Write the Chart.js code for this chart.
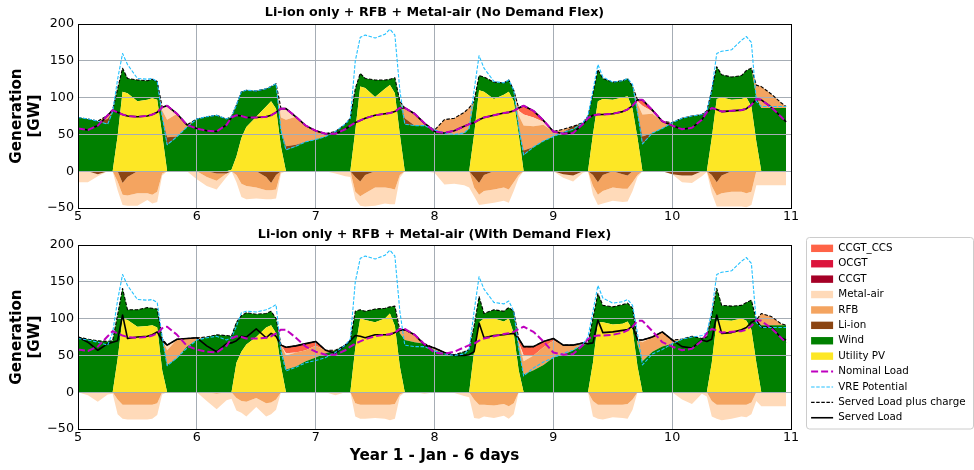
<!DOCTYPE html>
<html lang="en">
<head>
<meta charset="UTF-8">
<title>Generation dispatch - Li-ion only + RFB + Metal-air</title>
<script src="https://cdn.jsdelivr.net/npm/chart.js"></script>
<style>
  html, body { margin: 0; padding: 0; background: #fff; }
  canvas { display: block; }
</style>
</head>
<body>
<canvas id="noFlex" width="974" height="225"></canvas>
<canvas id="withFlex" width="974" height="245"></canvas>
<script>
// sample hours inside each simulated day (denser around sunrise / sunset)
const hourMarks = [0, 2, 4, 6, 7, 8, 9, 10, 12, 14, 15, 16, 17, 18, 20, 22];
const dayNumbers = [5, 6, 7, 8, 9, 10];
const timeDays = [];
dayNumbers.forEach(d => hourMarks.forEach(h => timeDays.push(d + h / 24)));
timeDays.push(10 + 23 / 24);

const xTicks = [5, 6, 7, 8, 9, 10, 11];
const yTicks = [-50, 0, 50, 100, 150, 200];

// ---- shared traces (GW) ----
const nominalLoad = [
  58,56,62,76,83,80,77,75,74,75,77,80,87,89,78,63,
  58,55,54,63,73,76,75,73,73,74,76,80,85,85,74,62,
  55,51,51,57,62,66,69,72,76,78,79,81,86,86,78,65,
  54,52,55,61,64,66,70,73,76,79,80,82,86,89,82,69,
  54,51,52,64,72,76,77,77,78,81,84,89,97,97,83,68,
  62,57,59,70,80,86,84,81,82,83,85,90,98,97,87,74,67
];
const vrePotential = [
  73,71,68,64,81,125,160,145,126,125,126,122,75,36,47,60,
  71,74,76,71,74,90,108,110,109,112,115,119,55,29,34,40,
  43,47,54,64,72,150,182,185,181,186,193,185,110,64,62,62,
  56,52,50,52,58,110,157,140,122,120,124,110,60,22,33,41,
  47,53,57,66,75,110,145,128,121,123,126,118,80,37,52,58,
  66,72,75,77,81,110,160,163,165,178,183,175,95,88,88,88,88
];

// ---- No demand flex ----
const pvA = [
  0,0,0,0,0,48,108,106,95,97,99,97,50,0,0,0,
  0,0,0,0,2,20,45,60,74,88,95,85,33,0,0,0,
  0,0,0,0,0,55,115,113,101,112,117,106,50,0,0,0,
  0,0,0,0,0,50,110,108,98,104,108,95,50,0,0,0,
  0,0,0,0,0,50,95,98,97,100,102,85,45,0,0,0,
  0,0,0,0,0,45,98,100,97,98,100,88,40,0,0,0,0
];
const windA = [
  73,71,68,64,81,64,32,20,29,26,26,25,23,36,47,60,
  71,74,76,71,72,70,63,50,35,24,20,34,22,29,34,40,
  43,47,54,64,72,57,18,13,23,12,8,21,45,64,62,62,
  56,52,50,52,58,45,20,20,23,16,16,15,10,22,33,41,
  47,53,57,66,75,55,43,28,24,23,24,30,35,37,52,58,
  66,72,75,77,78,65,44,31,31,32,37,52,60,86,86,86,86
];
const liionA = [
  0,0,0,7,0,0,0,0,0,0,0,0,0,10,0,0,
  0,0,0,0,0,0,0,0,0,0,0,0,0,5,2,0,
  0,0,0,0,0,0,0,0,0,0,0,0,0,8,0,0,
  0,0,0,0,0,0,0,0,0,0,0,0,0,6,0,0,
  0,0,4,0,0,0,0,0,0,0,0,0,0,10,0,0,
  0,0,0,0,4,0,0,0,0,0,0,0,0,0,0,0,0
];
const rfbA = [
  0,0,0,5,2,0,0,0,0,0,0,0,10,24,31,3,
  0,0,0,0,0,0,0,0,0,0,0,0,18,36,38,22,
  12,4,0,0,0,0,0,0,0,0,0,0,0,14,16,3,
  0,18,22,28,28,0,0,0,0,0,0,0,16,34,28,22,
  7,4,0,0,0,0,0,0,0,0,0,0,12,30,26,10,
  0,0,0,0,0,0,0,0,0,0,0,0,17,29,19,7,2
];
const metalA = [
  0,0,0,0,0,0,0,0,0,0,0,0,4,19,0,0,
  0,0,0,0,0,0,0,0,0,0,0,0,12,15,0,0,
  0,0,0,0,0,0,0,0,0,0,0,0,0,0,0,0,
  0,0,0,0,0,0,0,0,0,0,0,0,6,15,12,4,
  0,0,0,0,0,0,0,0,0,0,0,0,3,12,3,0,
  0,0,0,0,0,0,0,0,0,0,0,0,0,0,0,0,0
];
const ccsA = [
  0,0,0,0,0,0,0,0,0,0,0,0,0,0,0,0,
  0,0,0,0,0,0,0,0,0,0,0,0,0,0,0,0,
  0,0,0,0,0,0,0,0,0,0,0,0,0,0,0,0,
  0,0,0,0,0,0,0,0,0,0,0,0,4,12,9,2,
  0,0,0,0,0,0,0,0,0,0,0,0,2,8,2,0,
  0,0,0,0,0,0,0,0,0,0,0,0,0,0,0,0,0
];
const liionChargeA = [
  0,0,-4,0,0,0,-16,-8,0,0,0,0,0,0,0,0,
  0,0,-3,-3,0,0,0,0,0,-8,-16,-5,0,0,0,0,
  0,0,0,0,0,-8,-14,-5,0,0,0,0,0,0,0,0,
  0,0,0,0,0,-8,-16,-5,0,0,0,0,0,0,0,0,
  0,-4,-6,0,0,-5,-15,-5,0,-4,-6,0,0,0,0,0,
  -4,-6,-6,0,0,-5,-15,-6,0,0,0,0,0,0,0,0,0
];
const rfbChargeA = [
  0,0,0,0,0,-14,-16,-25,-30,-30,-32,-28,-3,0,0,0,
  0,-8,-10,0,0,-5,-17,-20,-22,-18,-10,-20,0,0,0,0,
  0,0,0,0,0,-20,-20,-25,-22,-22,-23,-25,-5,0,0,0,
  0,0,0,0,0,-14,-16,-22,-25,-22,-25,-15,-5,0,0,0,
  0,0,0,0,0,-15,-17,-22,-22,-20,-18,-15,-5,0,0,0,
  0,0,0,0,0,-15,-18,-24,-28,-28,-30,-28,0,0,0,0,0
];
const metalChargeA = [
  -15,-15,-3,0,0,-12,-14,-14,-17,-9,-12,-14,-3,0,0,0,
  -11,-12,-12,-5,0,-10,-18,-18,-15,-12,-12,-12,-3,0,0,0,
  0,0,-3,-7,-8,-10,-13,-18,-25,-22,-22,-20,-4,0,0,0,
  -2,-18,-17,-19,-22,-12,-14,-18,-18,-18,-18,-12,-4,0,0,0,
  0,-5,-8,-2,0,-12,-14,-17,-18,-18,-17,-12,-3,0,0,0,
  0,-9,-10,-7,-1,-10,-15,-18,-20,-20,-19,-18,-19,-19,-19,-19,-19
];

// ---- With demand flex ----
const pvB = [
  0,0,0,0,0,45,100,98,89,90,91,88,30,0,0,0,
  0,0,0,0,0,40,55,65,75,88,91,80,35,0,0,0,
  0,0,0,0,0,60,100,98,95,100,107,90,35,0,0,0,
  0,0,0,0,0,55,95,100,100,96,100,80,30,0,0,0,
  0,0,0,0,0,40,95,95,92,93,96,85,35,0,0,0,
  0,0,0,0,0,40,97,98,97,100,97,85,40,0,0,0,0
];
const windB = [
  75,72,70,69,70,60,41,14,23,25,23,25,43,37,46,62,
  71,75,78,77,76,55,49,43,31,19,19,20,25,31,35,42,
  47,53,57,64,70,50,12,12,18,14,9,27,45,71,68,66,
  57,53,51,55,58,35,35,7,12,14,15,30,30,24,30,37,
  47,51,57,65,66,60,39,23,24,26,25,29,30,42,55,62,
  66,72,76,73,75,65,44,20,20,18,25,40,55,91,91,91,91
];
const rfbB = [
  0,0,0,0,0,0,0,0,0,0,0,0,0,20,26,11,
  3,0,0,0,0,0,0,0,0,0,0,0,4,19,19,15,
  16,4,0,0,0,0,0,0,0,0,0,0,4,14,10,0,
  3,1,0,0,0,0,0,0,0,0,0,0,8,18,20,24,
  23,13,7,2,0,0,0,0,0,0,0,0,6,26,20,20,
  5,0,0,0,0,0,0,0,0,0,0,0,3,16,12,2,0
];
const metalB = [
  0,0,0,0,0,0,0,0,0,0,0,0,0,7,0,0,
  0,0,0,0,0,0,0,0,0,0,0,0,0,3,0,0,
  0,0,0,0,0,0,0,0,0,0,0,0,0,0,0,0,
  0,0,0,0,0,0,0,0,0,0,0,0,0,8,0,0,
  0,0,0,0,0,0,0,0,0,0,0,0,0,3,0,0,
  0,0,0,0,0,0,0,0,0,0,0,0,0,0,0,0,0
];
const ccsB = [
  0,0,0,0,0,0,0,0,0,0,0,0,0,0,0,0,
  0,0,0,0,0,0,0,0,0,0,0,0,0,8,9,9,
  6,0,0,0,0,0,0,0,0,0,0,0,0,0,0,0,
  0,0,0,0,0,0,0,0,0,0,0,0,5,12,12,8,
  3,0,0,0,0,0,0,0,0,0,0,0,0,0,0,0,
  0,0,0,0,0,0,0,0,0,0,0,0,0,0,0,0,0
];
const rfbChargeB = [
  0,0,0,0,0,-10,-17,-17,-17,-17,-17,-15,0,0,0,0,
  0,0,-2,0,0,-8,-12,-13,-8,-15,-14,-10,0,0,0,0,
  0,0,0,0,0,-15,-17,-17,-17,-17,-17,-16,-3,0,0,0,
  0,0,0,0,0,-10,-17,-17,-18,-16,-19,-15,0,0,0,0,
  0,0,0,0,0,-12,-17,-17,-17,-17,-16,-10,0,0,0,0,
  0,0,0,0,0,-12,-17,-17,-17,-17,-17,-14,0,0,0,0,0
];
const metalChargeB = [
  0,-4,-13,-3,-2,-20,-19,-20,-20,-20,-19,-16,-3,0,0,0,
  0,-12,-21,-11,-9,-17,-16,-20,-12,-18,-16,-14,0,0,0,0,
  0,0,-4,0,0,-18,-19,-19,-18,-19,-21,-20,-3,0,0,-2,
  0,0,-1,-5,-7,-25,-19,-16,-17,-16,-17,-15,0,0,0,0,
  0,0,0,0,0,-21,-19,-20,-17,-18,-20,-14,0,0,0,0,
  0,-10,-16,-2,-6,-21,-19,-21,-19,-16,-17,-16,-12,-19,-19,-19,-19
];
const servedB = [
  75,68,57,66,68,70,105,73,75,76,78,82,70,64,72,73,
  74,63,55,66,67,70,76,75,86,74,80,76,64,61,63,66,
  69,57,53,64,70,77,76,74,78,78,78,81,84,85,78,64,
  60,54,50,50,51,55,94,74,77,78,79,80,73,62,62,69,
  73,64,64,67,66,67,98,81,82,84,85,90,71,71,75,82,
  71,62,60,71,69,72,105,80,81,85,88,95,98,88,89,74,71
];

const techColors = {
  'CCGT_CCS': '#ff6347',
  'OCGT': '#dc143c',
  'CCGT': '#a50026',
  'Metal-air': '#ffdab9',
  'RFB': '#f4a460',
  'Li-ion': '#8b4513',
  'Wind': '#008000',
  'Utility PV': '#fde725'
};
const traceStyles = {
  'Nominal Load': { color: '#bf00bf', width: 2, dash: [7, 3] },
  'VRE Potential': { color: '#22c0ff', width: 1.1, dash: [3.5, 1.6] },
  'Served Load plus charge': { color: '#000000', width: 1.1, dash: [3.5, 1.6] },
  'Served Load': { color: '#000000', width: 1.6, dash: [] }
};
const gridColor = '#a6adb5';

Chart.defaults.font.family = "'DejaVu Sans', sans-serif";
Chart.defaults.color = '#000';

// total of the generation stack = served load plus storage charging
function stackTotal(parts) {
  return parts[0].map((_, i) => parts.reduce((s, p) => s + p[i], 0));
}

function areaSet(label, data, stack, fill) {
  return { label, data, stack, fill, backgroundColor: techColors[label],
           borderWidth: 0, pointRadius: 0 };
}
function traceSet(label, data, stack) {
  const s = traceStyles[label];
  return { label, data, stack, fill: false, borderColor: s.color, borderWidth: s.width,
           borderDash: s.dash, borderJoinStyle: 'round', pointRadius: 0, tension: 0 };
}

// grid above the filled areas but under the lines, black frame on top
const panelFrame = {
  id: 'panelFrame',
  beforeDatasetsDraw(chart) {
    chart.scales.x.drawGrid(chart.chartArea);
    chart.scales.y.drawGrid(chart.chartArea);
  },
  afterDatasetsDraw(chart) {
    const { ctx, chartArea: a } = chart;
    ctx.save();
    ctx.strokeStyle = '#000';
    ctx.lineWidth = 1;
    ctx.strokeRect(Math.round(a.left) + 0.5, Math.round(a.top) + 0.5,
                   Math.round(a.right - a.left), Math.round(a.bottom - a.top));
    ctx.restore();
  }
};

// legend sits in its own framed box to the right of the lower panel
const legendBox = {
  id: 'legendBox',
  afterLayout(chart) {
    const lg = chart.legend;
    lg.left = 806;
    lg.right = 806 + lg.width;
    lg.top = 10.1;
    lg.bottom = 206;
    lg.height = lg.bottom - lg.top;
  },
  beforeDraw(chart) {
    const ctx = chart.ctx;
    ctx.save();
    ctx.fillStyle = '#fff';
    ctx.strokeStyle = '#cccccc';
    ctx.lineWidth = 1;
    ctx.beginPath();
    ctx.roundRect(806.5, 12.5, 167, 191.5, 3);
    ctx.fill();
    ctx.stroke();
    ctx.restore();
  }
};

const legendOrder = ['CCGT_CCS', 'OCGT', 'CCGT', 'Metal-air', 'RFB', 'Li-ion', 'Wind', 'Utility PV',
                     'Nominal Load', 'VRE Potential', 'Served Load plus charge', 'Served Load'];

function legendItems() {
  return legendOrder.map(name => {
    if (techColors[name]) {
      return { text: name, fillStyle: techColors[name], strokeStyle: techColors[name],
               lineWidth: 0, pointStyle: 'rect', hidden: false };
    }
    const s = traceStyles[name];
    return { text: name, fillStyle: 'rgba(0,0,0,0)', strokeStyle: s.color, lineWidth: s.width,
             lineDash: s.dash, pointStyle: 'line', hidden: false };
  });
}

function panelOptions(opts) {
  return {
    responsive: false,
    animation: false,
    events: [],
    layout: { padding: { left: 0, top: 0, bottom: 0, right: opts.padRight } },
    plugins: {
      filler: { drawTime: 'beforeDatasetsDraw', propagate: false },
      tooltip: { enabled: false },
      title: {
        display: true, text: opts.title, fullSize: false, color: '#000',
        font: { size: 12.7, weight: 'bold' }, padding: opts.titlePad
      },
      legend: opts.legend
    },
    scales: {
      x: {
        type: 'linear', min: xTicks[0], max: xTicks[xTicks.length - 1],
        ticks: { stepSize: 1, padding: 1.2, autoSkip: false, maxRotation: 0,
                 font: { size: 12.7 }, color: '#000' },
        grid: { color: gridColor, lineWidth: 1, drawTicks: false },
        border: { display: false },
        title: opts.xTitle,
        afterFit: s => { s.height = opts.xHeight; }
      },
      y: {
        stacked: true, min: yTicks[0], max: yTicks[yTicks.length - 1],
        ticks: { stepSize: 50, padding: 4, font: { size: 12.7 }, color: '#000',
                 callback: v => (v < 0 ? '\u2212' + Math.abs(v) : String(v)) },
        grid: { color: gridColor, lineWidth: 1, drawTicks: false },
        border: { display: false },
        title: { display: true, text: ['Generation', '[GW]'], color: '#000',
                 font: { size: 15.2, weight: 'bold' }, padding: { top: 7.9, bottom: 0 } },
        afterFit: s => { s.width = 78; }
      }
    }
  };
}

new Chart(document.getElementById('noFlex'), {
  type: 'line',
  data: {
    labels: timeDays,
    datasets: [
      traceSet('Nominal Load', nominalLoad, 'l1'),
      traceSet('VRE Potential', vrePotential, 'l2'),
      traceSet('Served Load plus charge', stackTotal([pvA, windA, liionA, rfbA, metalA, ccsA]), 'l3'),
      traceSet('Served Load', nominalLoad, 'l4'),
      areaSet('Utility PV', pvA, 'gen', 'origin'),
      areaSet('Wind', windA, 'gen', '-1'),
      areaSet('Li-ion', liionA, 'gen', '-1'),
      areaSet('RFB', rfbA, 'gen', '-1'),
      areaSet('Metal-air', metalA, 'gen', '-1'),
      areaSet('CCGT_CCS', ccsA, 'gen', '-1'),
      areaSet('Li-ion', liionChargeA, 'chg', 'origin'),
      areaSet('RFB', rfbChargeA, 'chg', '-1'),
      areaSet('Metal-air', metalChargeA, 'chg', '-1')
    ]
  },
  options: panelOptions({
    title: 'Li-ion only + RFB + Metal-air (No Demand Flex)',
    titlePad: { top: 4.9, bottom: 3.9 },
    padRight: 183,
    xHeight: 17,
    xTitle: { display: false },
    legend: { display: false }
  }),
  plugins: [panelFrame]
});

new Chart(document.getElementById('withFlex'), {
  type: 'line',
  data: {
    labels: timeDays,
    datasets: [
      traceSet('Nominal Load', nominalLoad, 'l1'),
      traceSet('VRE Potential', vrePotential, 'l2'),
      traceSet('Served Load plus charge', stackTotal([pvB, windB, rfbB, metalB, ccsB]), 'l3'),
      traceSet('Served Load', servedB, 'l4'),
      areaSet('Utility PV', pvB, 'gen', 'origin'),
      areaSet('Wind', windB, 'gen', '-1'),
      areaSet('RFB', rfbB, 'gen', '-1'),
      areaSet('Metal-air', metalB, 'gen', '-1'),
      areaSet('CCGT_CCS', ccsB, 'gen', '-1'),
      areaSet('RFB', rfbChargeB, 'chg', 'origin'),
      areaSet('Metal-air', metalChargeB, 'chg', '-1')
    ]
  },
  options: panelOptions({
    title: 'Li-ion only + RFB + Metal-air (With Demand Flex)',
    titlePad: { top: 2.4, bottom: 2.4 },
    padRight: 23,
    xHeight: 41,
    xTitle: { display: true, text: 'Year 1 - Jan - 6 days', color: '#000',
              font: { size: 15.2, weight: 'bold' }, padding: { top: 0, bottom: 4.4 } },
    legend: {
      display: true, position: 'right', align: 'center', maxWidth: 160,
      labels: {
        generateLabels: legendItems, usePointStyle: true, pointStyleWidth: 22,
        boxHeight: 7.4, padding: 5.1, color: '#222', font: { size: 10.3 }
      }
    }
  }),
  plugins: [panelFrame, legendBox]
});
</script>
</body>
</html>
